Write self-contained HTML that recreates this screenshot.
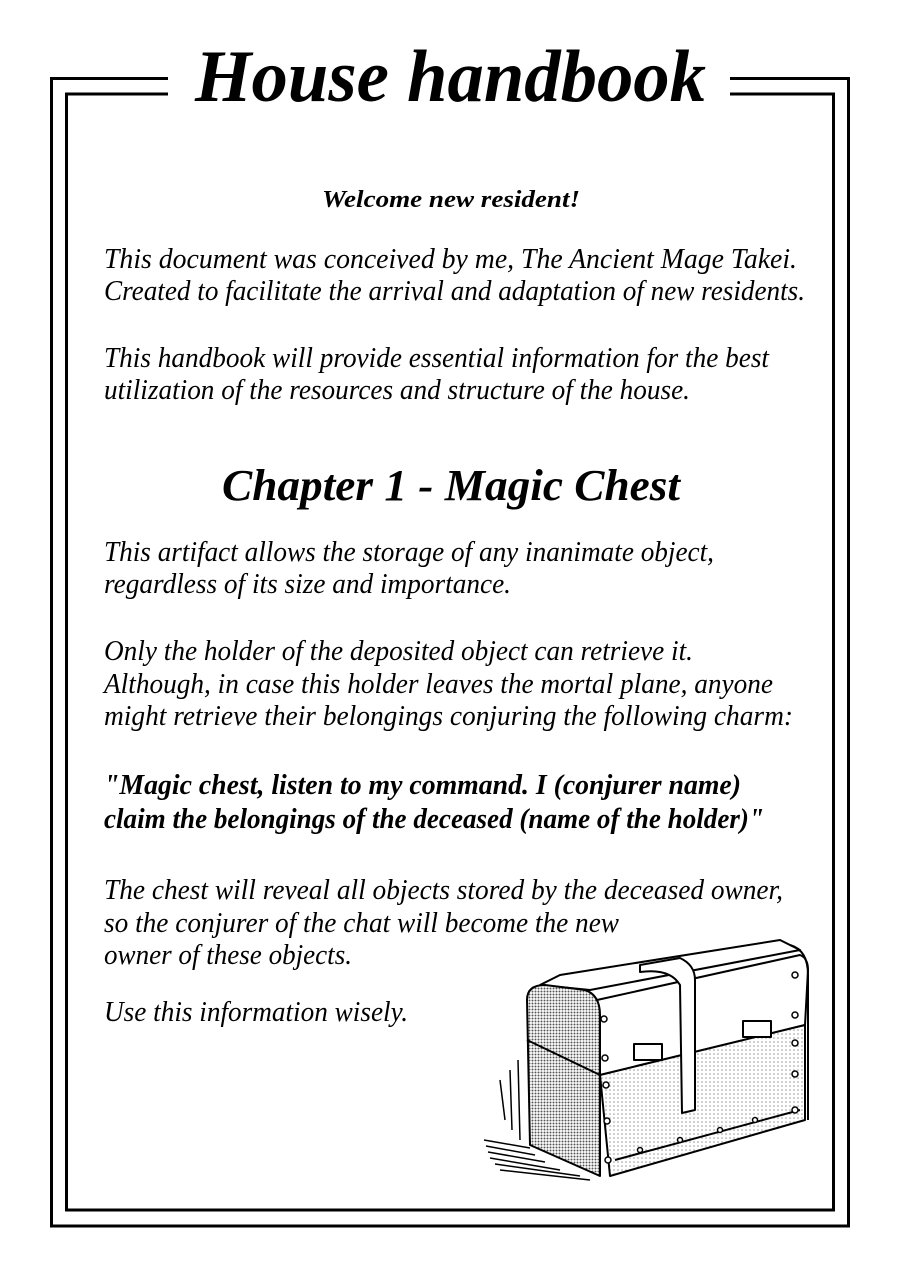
<!DOCTYPE html>
<html><head><meta charset="utf-8"><style>
html,body{margin:0;padding:0;background:#fff;}
svg{display:block;}
text{font-family:"Liberation Serif",serif;font-style:italic;fill:#000;}
</style></head><body>
<svg width="900" height="1273" viewBox="0 0 900 1273" xmlns="http://www.w3.org/2000/svg">
<defs>
<pattern id="dots" width="3" height="3" patternUnits="userSpaceOnUse"><rect width="3" height="3" fill="#fff"/><circle cx="1.5" cy="1.5" r="1" fill="#555"/></pattern>
<pattern id="dots2" width="4" height="4" patternUnits="userSpaceOnUse"><rect width="4" height="4" fill="#fff"/><circle cx="2" cy="2" r="0.8" fill="#999"/></pattern>
</defs>
<g fill="none" stroke="#000" stroke-width="3">
<path d="M168,78.5 H51.5 V1226 H848.5 V78.5 H730"/>
<path d="M168,94 H66.5 V1210 H833.5 V94 H730"/>
</g>
<text x="195" y="101" font-size="74" font-weight="bold" textLength="511" lengthAdjust="spacingAndGlyphs">House handbook</text>
<text x="322" y="207" font-size="24" font-weight="bold" textLength="258" lengthAdjust="spacingAndGlyphs">Welcome new resident!</text>
<g font-size="29">
<text x="104" y="268" textLength="693" lengthAdjust="spacingAndGlyphs">This document was conceived by me, The Ancient Mage Takei.</text>
<text x="104" y="300" textLength="701" lengthAdjust="spacingAndGlyphs">Created to facilitate the arrival and adaptation of new residents.</text>
<text x="104" y="367" textLength="665" lengthAdjust="spacingAndGlyphs">This handbook will provide essential information for the best</text>
<text x="104" y="399" textLength="586" lengthAdjust="spacingAndGlyphs">utilization of the resources and structure of the house.</text>
<text x="104" y="561" textLength="610" lengthAdjust="spacingAndGlyphs">This artifact allows the storage of any inanimate object,</text>
<text x="104" y="593" textLength="407" lengthAdjust="spacingAndGlyphs">regardless of its size and importance.</text>
<text x="104" y="660" textLength="589" lengthAdjust="spacingAndGlyphs">Only the holder of the deposited object can retrieve it.</text>
<text x="104" y="693" textLength="669" lengthAdjust="spacingAndGlyphs">Although, in case this holder leaves the mortal plane, anyone</text>
<text x="104" y="725" textLength="689" lengthAdjust="spacingAndGlyphs">might retrieve their belongings conjuring the following charm:</text>
<text x="104" y="794" font-weight="bold" textLength="637" lengthAdjust="spacingAndGlyphs">"Magic chest, listen to my command. I (conjurer name)</text>
<text x="104" y="828" font-weight="bold" textLength="660" lengthAdjust="spacingAndGlyphs">claim the belongings of the deceased (name of the holder)"</text>
<text x="104" y="899" textLength="679" lengthAdjust="spacingAndGlyphs">The chest will reveal all objects stored by the deceased owner,</text>
<text x="104" y="932" textLength="515" lengthAdjust="spacingAndGlyphs">so the conjurer of the chat will become the new</text>
<text x="104" y="964" textLength="248" lengthAdjust="spacingAndGlyphs">owner of these objects.</text>
<text x="104" y="1021" textLength="304" lengthAdjust="spacingAndGlyphs">Use this information wisely.</text>
</g>
<text x="222" y="500" font-size="44" font-weight="bold" textLength="458" lengthAdjust="spacingAndGlyphs">Chapter 1 - Magic Chest</text>
<g stroke="#000" stroke-width="2" stroke-linejoin="round">
<g stroke-width="1.5">
<path d="M484,1140 L530,1148 M486,1146 L535,1155 M488,1152 L545,1162 M490,1158 L560,1170 M495,1164 L580,1176 M500,1170 L590,1180"/>
<path d="M500,1080 L505,1120 M510,1070 L512,1130 M518,1060 L520,1140"/>
</g>
<path d="M540,985 L590,990 L800,950 L780,940 L560,975 Z" fill="#fff"/>
<path d="M597,1000 L800,955 Q808,958 808,970 L805,1025 L600,1075 Z" fill="#fff"/>
<path d="M600,1075 L805,1025 L805,1120 L610,1176 Z" fill="url(#dots2)"/>
<path d="M615,1160 L800,1110" fill="none"/>
<path d="M527,1000 Q527,985 545,985 L585,990 Q600,995 600,1015 L600,1176 L530,1145 Z" fill="url(#dots)"/>
<path d="M527,1040 L600,1075" fill="none"/>
<path d="M640,965 L680,958 Q695,965 695,980 L695,1110 L682,1113 L680,985 Q670,968 640,972 Z" fill="#fff"/>
<rect x="634" y="1044" width="28" height="16" fill="#fff"/>
<rect x="743" y="1021" width="28" height="16" fill="#fff"/>
<path d="M790,945 Q808,950 808,975 L808,1120" fill="none"/>
<g fill="#fff" stroke-width="1.5">
<circle cx="604" cy="1019" r="3"/><circle cx="605" cy="1058" r="3"/><circle cx="606" cy="1085" r="3"/><circle cx="607" cy="1121" r="3"/><circle cx="608" cy="1160" r="3"/>
<circle cx="795" cy="975" r="3"/><circle cx="795" cy="1015" r="3"/><circle cx="795" cy="1043" r="3"/><circle cx="795" cy="1074" r="3"/><circle cx="795" cy="1110" r="3"/>
<circle cx="640" cy="1150" r="2.5"/><circle cx="680" cy="1140" r="2.5"/><circle cx="720" cy="1130" r="2.5"/><circle cx="755" cy="1120" r="2.5"/>
</g>
</g>
</svg>
</body></html>
